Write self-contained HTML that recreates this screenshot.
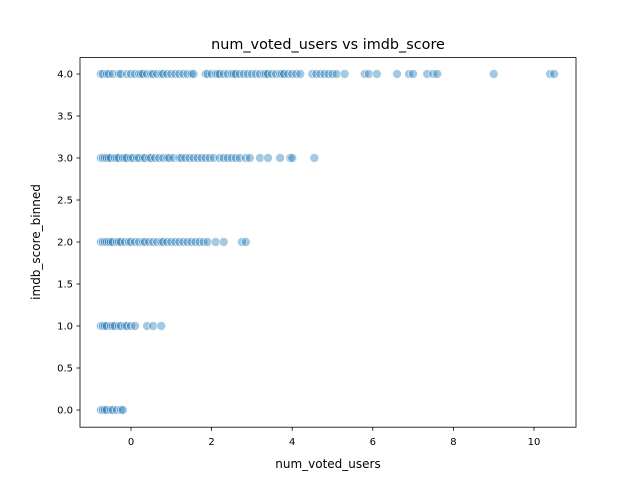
<!DOCTYPE html>
<html><head><meta charset="utf-8"><style>
body{margin:0;background:#fff;}
svg text{font-family:"DejaVu Sans","Liberation Sans",sans-serif;fill:#000;}
</style></head><body>
<svg id="chart" width="640" height="480">
<rect width="640" height="480" fill="#fff"/>
<text x="328" y="49" font-size="14.4" text-anchor="middle">num_voted_users vs imdb_score</text>
<g id="points"></g>
<rect x="80" y="57.6" width="496" height="369.6" fill="none" stroke="#000" stroke-width="0.8"/>
<g id="xt"></g>
<g id="yt"></g>
<text x="328" y="468" font-size="12" text-anchor="middle">num_voted_users</text>
<text transform="translate(40,242) rotate(-90)" font-size="12" text-anchor="middle">imdb_score_binned</text>
</svg>
<script>
const xTicks=[0,2,4,6,8,10];
const yTicks=[0,0.5,1,1.5,2,2.5,3,3.5,4];
const row4=[-0.75,-0.7,-0.6,-0.55,-0.45,-0.3,-0.25,-0.1,0,0.1,0.2,0.25,0.3,0.4,0.5,0.55,0.65,0.75,0.8,0.9,1.0,1.1,1.2,1.3,1.4,1.5,1.55,1.85,1.9,2.0,2.1,2.15,2.2,2.3,2.4,2.5,2.55,2.6,2.7,2.8,2.9,3.0,3.1,3.2,3.3,3.35,3.4,3.5,3.6,3.7,3.75,3.8,3.9,4.0,4.1,4.2,4.5,4.6,4.7,4.8,4.9,5.0,5.1,5.3,5.8,5.9,6.1,6.6,6.9,7.0,7.35,7.5,7.6,9.0,10.4,10.5];
const row3=[-0.75,-0.7,-0.65,-0.6,-0.55,-0.5,-0.4,-0.35,-0.3,-0.2,-0.15,-0.1,0,0.05,0.15,0.2,0.3,0.35,0.45,0.5,0.6,0.7,0.8,0.9,0.95,1.05,1.2,1.25,1.35,1.45,1.55,1.65,1.75,1.85,1.95,2.05,2.2,2.3,2.4,2.5,2.6,2.7,2.85,2.95,3.2,3.4,3.7,3.95,4.0,4.55];
const row2=[-0.75,-0.7,-0.65,-0.6,-0.55,-0.5,-0.45,-0.35,-0.3,-0.25,-0.15,-0.05,0,0.1,0.2,0.3,0.35,0.45,0.55,0.65,0.75,0.8,0.9,1.0,1.1,1.2,1.3,1.4,1.5,1.6,1.7,1.8,1.9,2.1,2.3,2.75,2.85];
const row1=[-0.75,-0.7,-0.65,-0.6,-0.5,-0.45,-0.4,-0.3,-0.25,-0.15,-0.1,0.0,0.1,0.4,0.55,0.75];
const row0=[-0.75,-0.7,-0.65,-0.6,-0.5,-0.45,-0.35,-0.25,-0.2];
const rows=[[0,row0],[1,row1],[2,row2],[3,row3],[4,row4]];
const X=v=>131+v*40.3, Y=v=>410-v*84;
const NS="http://www.w3.org/2000/svg";
const pg=document.getElementById('points');
rows.forEach(([yv,xs])=>xs.forEach(xv=>{
 const c=document.createElementNS(NS,'circle');
 c.setAttribute('cx',X(xv));c.setAttribute('cy',Y(yv));c.setAttribute('r',4.5);
 c.setAttribute('fill','rgba(31,119,180,0.4)');c.setAttribute('stroke','#fff');c.setAttribute('stroke-width','0.6');
 
 
 pg.appendChild(c);
}));
const xt=document.getElementById('xt');
xTicks.forEach(t=>{
 const l=document.createElementNS(NS,'line');
 l.setAttribute('x1',X(t));l.setAttribute('x2',X(t));l.setAttribute('y1',427.2);l.setAttribute('y2',430.7);l.setAttribute('stroke','#000');l.setAttribute('stroke-width','0.8');
 
 
 xt.appendChild(l);
 const s=document.createElementNS(NS,'text');
 s.setAttribute('x',X(t));s.setAttribute('y',445);s.setAttribute('font-size','10');s.setAttribute('text-anchor','middle');s.textContent=t;
 
 
 xt.appendChild(s);
});
const yt=document.getElementById('yt');
yTicks.forEach(t=>{
 const l=document.createElementNS(NS,'line');
 l.setAttribute('x1',76.5);l.setAttribute('x2',80);l.setAttribute('y1',Y(t));l.setAttribute('y2',Y(t));l.setAttribute('stroke','#000');l.setAttribute('stroke-width','0.8');
 
 
 yt.appendChild(l);
 const s=document.createElementNS(NS,'text');
 s.setAttribute('x',73);s.setAttribute('y',Y(t)+3.6);s.setAttribute('font-size','10');s.setAttribute('text-anchor','end');s.textContent=t.toFixed(1);
 
 
 yt.appendChild(s);
});
</script>
</body></html>
